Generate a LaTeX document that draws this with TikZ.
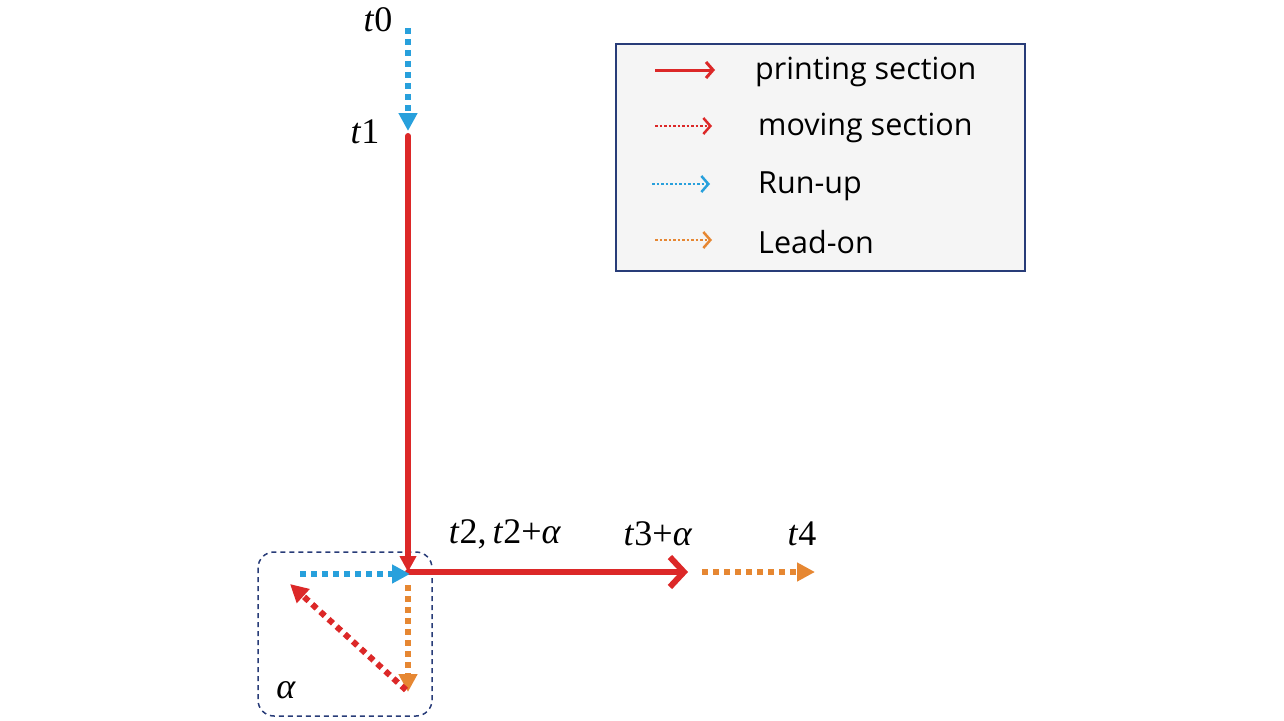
\documentclass[tikz,border=0pt]{standalone}
\usepackage{fontspec}
\setmainfont{Open Sans}
\newfontfamily\tms{Liberation Serif}
\usetikzlibrary{arrows.meta}
\definecolor{rd}{RGB}{220,40,40}
\definecolor{bl}{RGB}{40,160,220}
\definecolor{og}{RGB}{230,135,50}
\definecolor{nv}{RGB}{40,60,120}
\newcommand{\ti}{\textit{t}}
\newcommand{\al}{\textit{α}}
\begin{document}
\begin{tikzpicture}[x=1pt,y=-1pt,
  solidr/.style={draw=rd,line width=6,line cap=round},
  dotl/.style={line width=6,dash pattern=on 6 off 5},
  tri/.style={-{Triangle[length=18,width=18]}},
  lbl/.style={font=\tms\fontsize{36}{36}\selectfont,inner sep=0},
  leg/.style={font=\fontsize{30.5}{30.5}\selectfont,anchor=west,inner sep=0}]
\useasboundingbox (0,0) rectangle (1284,720);
\coordinate (a0) at (408,28);
\coordinate (a1) at (408,131);
\coordinate (b1) at (408,136);
\coordinate (c) at (408,572);
\coordinate (d) at (688,572);
\coordinate (e0) at (702,572);
\coordinate (e1) at (815,572);
\coordinate (f0) at (300,574);
\coordinate (g0) at (408,585);
\coordinate (g1) at (408,692);
\coordinate (h0) at (406,690);
\coordinate (h1) at (290,584);
\draw[rounded corners=16,dash pattern=on 5 off 4,nv,line width=1.5] (258,552) rectangle (432,716);
\draw[dotl,bl,tri] (a0) -- (a1);
\draw[solidr,-{Triangle[length=16,width=16]}] (b1) -- (c);
\draw[solidr,-{Straight Barb[length=14,width=30,line width=6]}] (c) -- (d);
\draw[dotl,og,tri] (e0) -- (e1);
\draw[dotl,bl,tri] (f0) -- (410,574);
\draw[dotl,og,tri] (g0) -- (g1);
\draw[dotl,rd,-{Triangle[length=18,width=18]}] (h0) -- (h1);
\node[lbl] (t0) at (378,20) {\ti0};
\node[lbl] (t1) at (365,132) {\ti1};
\node[lbl] (t2) at (505,534) {\ti2,\,\ti2+\al};
\node[lbl] (t3) at (658,534) {\ti3+\al};
\node[lbl] (t4) at (802,534) {\ti4};
\node[lbl] (al) at (286,690) {\al};
\node[draw=nv,line width=1.5,fill=gray!8,minimum width=409,minimum height=227,anchor=north west,inner sep=0] (legbox) at (615,43) {};
\draw[rd,line width=3,-{Straight Barb[length=7,width=16,line width=3]}] (655,70) -- (715,70);
\draw[rd,line width=2.5,dotted,-{Straight Barb[length=7,width=16,line width=2.5]}] (655,126) -- (712,126);
\draw[bl,line width=2.5,dotted,-{Straight Barb[length=7,width=16,line width=2.5]}] (652,184) -- (710,184);
\draw[og,line width=2.5,dotted,-{Straight Barb[length=7,width=16,line width=2.5]}] (655,240) -- (712,240);
\node[leg] (l1) at (755,72) {printing section};
\node[leg] (l2) at (758,128) {moving section};
\node[leg] (l3) at (758,186) {Run-up};
\node[leg] (l4) at (758,242) {Lead-on};
\end{tikzpicture}
\end{document}
